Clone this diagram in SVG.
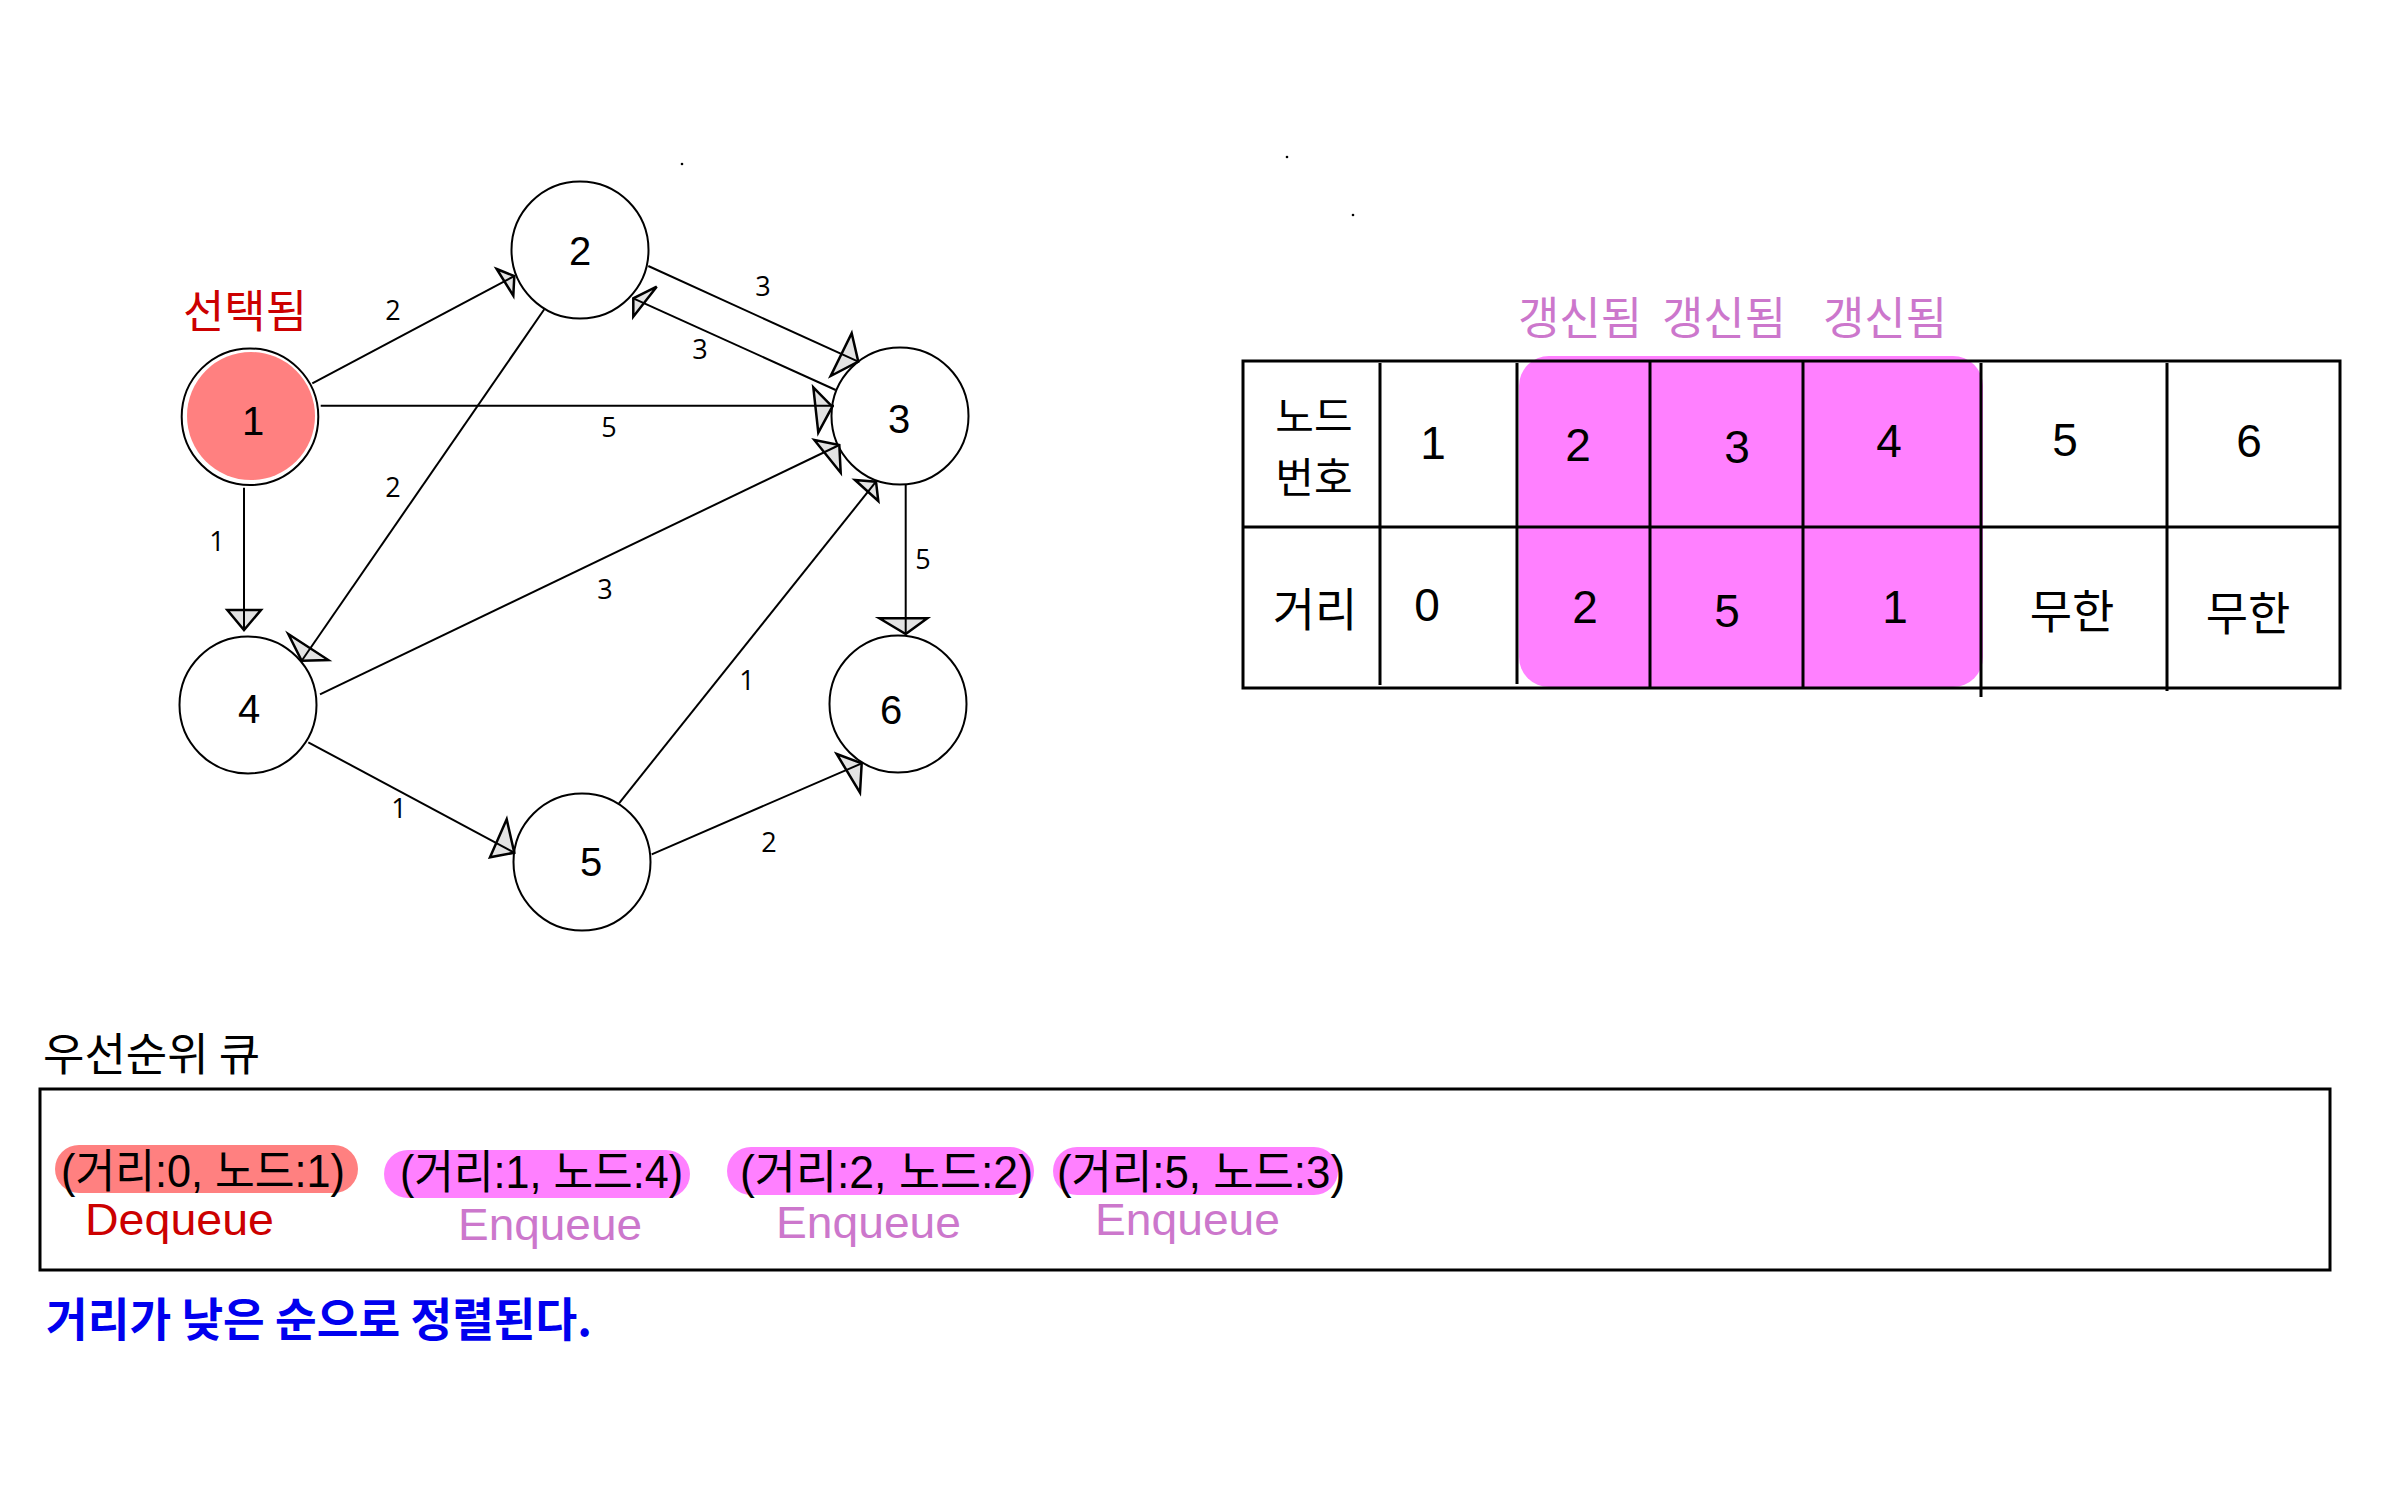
<svg xmlns="http://www.w3.org/2000/svg" width="2386" height="1491" viewBox="0 0 2386 1491">
<style>
.bg{fill:#fff}
.node circle{fill:#fff;stroke:#000;stroke-width:2}
.node circle.sel{fill:#ff8080;stroke:none}
.nl{font-family:"Liberation Sans","Noto Sans CJK KR",sans-serif;font-size:40px;text-anchor:middle;fill:#000}
.edge line{stroke:#000;stroke-width:2}
.ah{fill:#e3e3e3;stroke:#000;stroke-width:2.5;stroke-linejoin:miter}
.el{font-family:"Open Sans","DejaVu Sans",sans-serif;font-size:27px;text-anchor:middle;fill:#000}
.grid{stroke:#000;stroke-width:3;fill:none}
.td{font-family:"Liberation Sans","Noto Sans CJK KR",sans-serif;font-size:46px;text-anchor:middle;fill:#000}
.tk{font-family:"Noto Sans CJK KR",sans-serif;font-size:46px;text-anchor:middle;fill:#000}
.upd{font-family:"Noto Sans CJK KR",sans-serif;font-size:45px;text-anchor:middle;fill:#cc77cc}
.red{fill:#cc0000}
.q{font-family:"Liberation Sans","Noto Sans CJK KR",sans-serif;font-size:46px;fill:#000}
.ql{font-family:"Liberation Sans",sans-serif;font-size:45px}
.enq{fill:#cc77cc}
.pink{fill:#ff80ff}
.salmon{fill:#ff8080}
</style>
<rect class="bg" x="0" y="0" width="2386" height="1491"/>
<g id="specks" fill="#000">
<circle cx="682" cy="164" r="1.3"/>
<circle cx="1287" cy="157" r="1.3"/>
<circle cx="1353" cy="215" r="1.3"/>
</g>
<g id="node1" class="node">
<circle cx="250" cy="416.7" r="68.3"/>
<circle class="sel" cx="251" cy="416" r="64"/>
<text class="nl" x="253" y="435">1</text>
</g>
<g id="node2" class="node">
<circle cx="580" cy="250" r="68.5"/>
<text class="nl" x="580" y="265">2</text>
</g>
<g id="node3" class="node">
<circle cx="900" cy="416" r="68.5"/>
<text class="nl" x="899" y="433">3</text>
</g>
<g id="node4" class="node">
<circle cx="248" cy="705" r="68.5"/>
<text class="nl" x="249" y="723">4</text>
</g>
<g id="node5" class="node">
<circle cx="582" cy="862" r="68.5"/>
<text class="nl" x="591" y="876">5</text>
</g>
<g id="node6" class="node">
<circle cx="898" cy="704" r="68.5"/>
<text class="nl" x="891" y="724">6</text>
</g>
<text id="selected-label" class="tk red" x="245" y="328" style="font-size:45px">선택됨</text>
<g id="connectors">
<g class="edge" id="e1-2"><polygon class="ah" points="496.7,269 514.3,276 513.3,295.7"/><line x1="312.3" y1="383.3" x2="514.3" y2="276"/><text class="el" x="393" y="320">2</text></g>
<g class="edge" id="e1-3"><polygon class="ah" points="813.3,387.3 832.3,406.7 818.3,432.7"/><line x1="320.7" y1="405.7" x2="834" y2="405.7"/><text class="el" x="609" y="437">5</text></g>
<g class="edge" id="e2-3"><polygon class="ah" points="851.7,333.3 858.3,361.7 830.7,376"/><line x1="648.3" y1="266" x2="858.3" y2="361.7"/><text class="el" x="763" y="296">3</text></g>
<g class="edge" id="e3-2"><polygon class="ah" points="656.7,286.7 633.3,298.3 633.3,316.7"/><line x1="835.7" y1="390" x2="633.3" y2="298.3"/><text class="el" x="700" y="359">3</text></g>
<g class="edge" id="e4-3"><polygon class="ah" points="814.3,440 839.3,445 840.7,472.7"/><line x1="320" y1="694.3" x2="839.3" y2="445"/><text class="el" x="605" y="599">3</text></g>
<g class="edge" id="e5-3"><polygon class="ah" points="855,480 876,481.7 878.3,501"/><line x1="619" y1="803.3" x2="876" y2="481.7"/><text class="el" x="747" y="690">1</text></g>
<g class="edge" id="e3-6"><polygon class="ah" points="879.3,618.3 905.7,634 927.3,618.3"/><line x1="905.7" y1="484.3" x2="905.7" y2="634"/><text class="el" x="923" y="569">5</text></g>
<g class="edge" id="e1-4"><polygon class="ah" points="227.3,610 244,630 261,610"/><line x1="244" y1="487.7" x2="244" y2="630"/><text class="el" x="217" y="551">1</text></g>
<g class="edge" id="e2-4"><polygon class="ah" points="288.3,634 301.7,660.7 328.3,660"/><line x1="544.3" y1="309.3" x2="301.7" y2="660.7"/><text class="el" x="393" y="497">2</text></g>
<g class="edge" id="e4-5"><polygon class="ah" points="506.7,819.3 514.3,852.7 490,857.3"/><line x1="308.3" y1="742.3" x2="514.3" y2="852.7"/><text class="el" x="399" y="818">1</text></g>
<g class="edge" id="e5-6"><polygon class="ah" points="836.7,754 861.7,763.3 860,792.7"/><line x1="651.7" y1="854.3" x2="861.7" y2="763.3"/><text class="el" x="769" y="852">2</text></g>
</g>
<g id="dist-table">
<rect class="pink" x="1519" y="356" width="464" height="331" rx="30"/>
<text class="upd" x="1580" y="335">갱신됨</text>
<text class="upd" x="1724" y="335">갱신됨</text>
<text class="upd" x="1885" y="335">갱신됨</text>
<rect class="grid" x="1243" y="361" width="1097" height="327"/>
<line class="grid" x1="1243" y1="527" x2="2340" y2="527"/>
<line class="grid" x1="1380" y1="363" x2="1380" y2="685"/>
<line class="grid" x1="1517" y1="363" x2="1517" y2="684"/>
<line class="grid" x1="1650" y1="361" x2="1650" y2="688"/>
<line class="grid" x1="1803" y1="361" x2="1803" y2="688"/>
<line class="grid" x1="1981" y1="363" x2="1981" y2="697"/>
<line class="grid" x1="2167" y1="363" x2="2167" y2="691"/>
<text class="tk" style="font-size:42px"><tspan x="1314" y="432">노드</tspan><tspan x="1314" y="493">번호</tspan></text>
<text class="td" x="1433" y="459">1</text>
<text class="td" x="1578" y="461">2</text>
<text class="td" x="1737" y="463">3</text>
<text class="td" x="1889" y="457">4</text>
<text class="td" x="2065" y="456">5</text>
<text class="td" x="2249" y="457">6</text>
<text class="tk" x="1315" y="626">거리</text>
<text class="td" x="1427" y="621">0</text>
<text class="td" x="1585" y="623">2</text>
<text class="td" x="1727" y="627">5</text>
<text class="td" x="1895" y="623">1</text>
<text class="tk" x="2072" y="628">무한</text>
<text class="tk" x="2248" y="630">무한</text>
</g>
<g id="priority-queue">
<text class="tk" x="43" y="1071" style="text-anchor:start;font-size:45px">우선순위 큐</text>
<rect class="grid" x="40" y="1089" width="2290" height="181"/>
<rect class="salmon" x="55" y="1145" width="303" height="48" rx="24"/>
<rect class="pink" x="384" y="1150" width="306" height="48" rx="24"/>
<rect class="pink" x="727" y="1147" width="307" height="48" rx="24"/>
<rect class="pink" x="1053" y="1147" width="285" height="48" rx="24"/>
<text class="q" x="61" y="1187" textLength="284" lengthAdjust="spacingAndGlyphs">(거리:0, 노드:1)</text>
<text class="q" x="400" y="1188" textLength="283" lengthAdjust="spacingAndGlyphs">(거리:1, 노드:4)</text>
<text class="q" x="740" y="1188" textLength="293" lengthAdjust="spacingAndGlyphs">(거리:2, 노드:2)</text>
<text class="q" x="1057" y="1188" textLength="288" lengthAdjust="spacingAndGlyphs">(거리:5, 노드:3)</text>
<text class="ql red" x="85" y="1235" textLength="189" lengthAdjust="spacingAndGlyphs">Dequeue</text>
<text class="ql enq" x="458" y="1240" textLength="184" lengthAdjust="spacingAndGlyphs">Enqueue</text>
<text class="ql enq" x="776" y="1238" textLength="185" lengthAdjust="spacingAndGlyphs">Enqueue</text>
<text class="ql enq" x="1095" y="1235" textLength="185" lengthAdjust="spacingAndGlyphs">Enqueue</text>
</g>
<text id="note" x="46" y="1336" textLength="546" lengthAdjust="spacingAndGlyphs" style="font-family:'Noto Sans CJK KR',sans-serif;font-size:46px;font-weight:bold;fill:#0000ee">거리가 낮은 순으로 정렬된다.</text>
</svg>
